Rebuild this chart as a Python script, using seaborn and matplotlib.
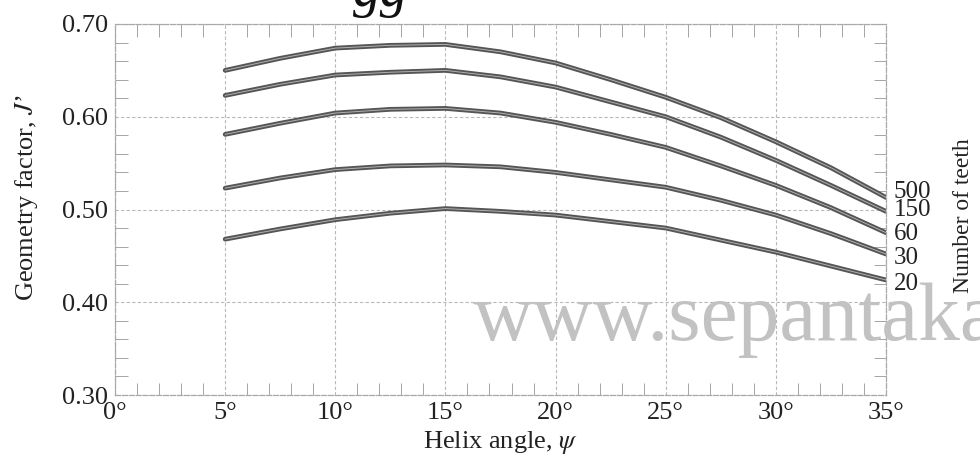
#%%
# Helical gear geometry factor J' vs helix angle, one curve per number of teeth
import numpy as np
import pandas as pd
import matplotlib
matplotlib.use("Agg")
import matplotlib.pyplot as plt
from matplotlib.ticker import MultipleLocator, FuncFormatter
import seaborn as sns

#%% data
helix_angle = [5, 7.5, 10, 12.5, 15, 17.5, 20, 22.5, 25, 27.5, 30, 32.5, 35]
teeth = ["500", "150", "60", "30", "20"]
j_500 = [0.650, 0.663, 0.674, 0.677, 0.678, 0.670, 0.658, 0.640, 0.621, 0.599, 0.573, 0.545, 0.513]
j_150 = [0.623, 0.635, 0.645, 0.648, 0.650, 0.643, 0.632, 0.616, 0.600, 0.578, 0.553, 0.526, 0.498]
j_60 = [0.581, 0.593, 0.604, 0.608, 0.609, 0.604, 0.594, 0.581, 0.567, 0.547, 0.526, 0.502, 0.475]
j_30 = [0.523, 0.534, 0.543, 0.547, 0.548, 0.546, 0.540, 0.532, 0.524, 0.510, 0.494, 0.474, 0.452]
j_20 = [0.468, 0.479, 0.489, 0.496, 0.501, 0.498, 0.494, 0.487, 0.480, 0.467, 0.454, 0.439, 0.424]

y_ticks = [0.30, 0.40, 0.50, 0.60, 0.70]
x_ticks = [0, 5, 10, 15, 20, 25, 30, 35]

curves = {"500": j_500, "150": j_150, "60": j_60, "30": j_30, "20": j_20}
df = pd.concat([pd.DataFrame({"angle": helix_angle, "J": vals, "teeth": n}) for n, vals in curves.items()])

#%% style
sns.set_theme(style="white")
plt.rcParams["font.family"] = ["Liberation Serif", "DejaVu Serif"]
plt.rcParams["mathtext.fontset"] = "stix"
txt_col = "#222222"

fig = plt.figure(figsize=(9.8, 4.58), dpi=100)
ax = fig.add_axes([115 / 980, 1 - 395 / 458, (886 - 115) / 980, (395 - 24) / 458])

sns.lineplot(data=df, x="angle", y="J", hue="teeth", palette={n: "#555555" for n in teeth},
             linewidth=3.4, legend=False, ax=ax)
# light core so the curves look like the scanned double strokes
sns.lineplot(data=df, x="angle", y="J", hue="teeth", palette={n: "#b0b0b0" for n in teeth},
             linewidth=0.7, legend=False, ax=ax)

ax.set_xlim(0, 35)
ax.set_ylim(0.30, 0.70)
ax.set_xticks(x_ticks)
ax.set_yticks(y_ticks)
ax.xaxis.set_major_formatter(FuncFormatter(lambda v, p: f"{v:.0f}°"))
ax.yaxis.set_major_formatter(FuncFormatter(lambda v, p: f"{v:.2f}"))
ax.xaxis.set_minor_locator(MultipleLocator(1))
ax.yaxis.set_minor_locator(MultipleLocator(0.02))
ax.tick_params(axis="both", which="major", length=0, labelsize=19, colors=txt_col, pad=5)
ax.tick_params(axis="x", which="minor", direction="in", length=9, width=0.7, color="#a5a5a5",
               top=True, bottom=True)
ax.tick_params(axis="y", which="minor", direction="in", length=9, width=0.7, color="#a5a5a5",
               left=True, right=True)
ax.grid(True, which="major", linestyle=(0, (3, 2)), linewidth=0.8, color="#b8b8b8")
for sp in ax.spines.values():
    sp.set_color("#a8a8a8")
    sp.set_linewidth(0.9)
    sp.set_linestyle((0, (4, 1.5)))

ax.set_xlabel(r"Helix angle, $\psi$", fontsize=19, color=txt_col, labelpad=4)
ax.set_ylabel("")
fig.text(26 / 980, 1 - 198 / 458, "Geometry factor, $J$’", rotation=90, fontsize=19,
         color=txt_col, ha="center", va="center")

# curve labels at the right-hand ends, nudged a little apart like in the original
nudge = [0.006, 0.001, -0.001, -0.004, -0.004]
for n, dy in zip(teeth, nudge):
    ax.text(35.35, curves[n][-1] + dy, n, fontsize=18, color=txt_col, ha="left", va="center",
            clip_on=False)
fig.text(963 / 980, 1 - 216 / 458, "Number of teeth", rotation=90, fontsize=17,
         color=txt_col, ha="center", va="center")

# cut-off heading above the chart and the watermark of the scan
fig.text(353 / 980, 1 - 6 / 458, "gg", fontsize=40, family="Liberation Serif", style="italic",
         color="#111111", ha="left", va="baseline")
fig.text(473 / 980, 1 - 340 / 458, "www.sepantaka", fontsize=60, color="#c2c2c2",
         ha="left", va="baseline")

plt.savefig("out.png", dpi=100)
